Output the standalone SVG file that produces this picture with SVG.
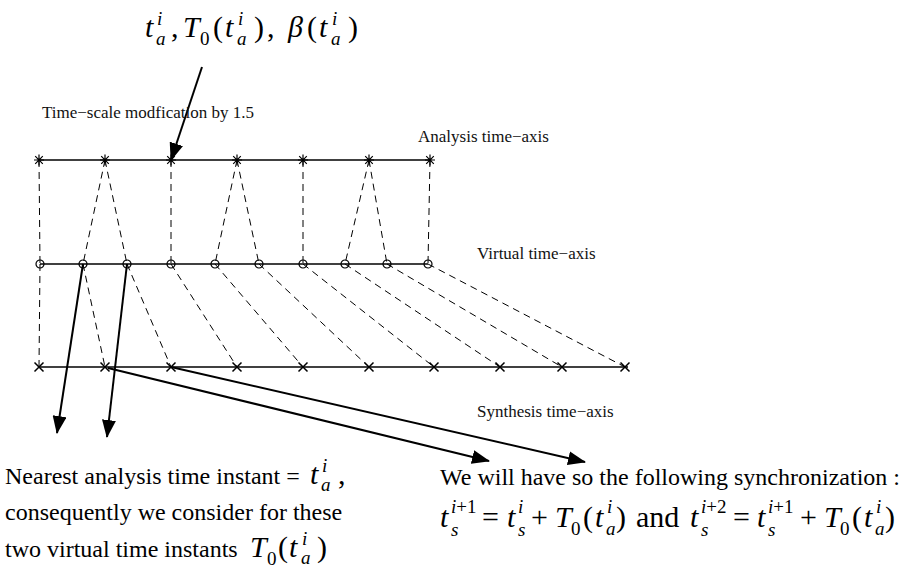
<svg xmlns="http://www.w3.org/2000/svg" width="900" height="570" viewBox="0 0 900 570">
<style>
.ax{stroke:#000;stroke-width:1.3;fill:none}
.mk{stroke:#000;stroke-width:1.2;fill:none}
.ds{stroke:#000;stroke-width:1;stroke-dasharray:7 5;fill:none}
.ar{stroke:#000;stroke-width:2;fill:none;marker-end:url(#ah)}
text{font-family:"Liberation Serif","Times New Roman",serif;fill:#000}
.lb{font-size:17px;fill:#111}
.bt{font-size:24px}
.m{font-size:30px}
.i{font-style:italic}
.s{font-size:19px}
</style>
<defs>
<marker id="ah" markerUnits="userSpaceOnUse" markerWidth="18" markerHeight="14" viewBox="0 0 18 14" refX="17" refY="7" orient="auto"><path d="M0,0 L18,7 L0,14 z" fill="#000"/></marker>
<path id="ast" class="mk" d="M-5,0H5M0,-5.5V5.5M-3.8,-3.8L3.8,3.8M-3.8,3.8L3.8,-3.8"/>
<circle id="cir" class="mk" r="4"/>
<path id="crs" class="mk" d="M-4.5,-4.5L4.5,4.5M-4.5,4.5L4.5,-4.5" style="stroke-width:1.5"/>
</defs>
<rect width="900" height="570" fill="#fff"/>

<g id="analysis-axis">
<line class="ax" x1="39" y1="160" x2="430" y2="160"/>
<use href="#ast" x="39" y="160"/><use href="#ast" x="105" y="160"/><use href="#ast" x="171" y="160"/><use href="#ast" x="237" y="160"/><use href="#ast" x="303" y="160"/><use href="#ast" x="369" y="160"/><use href="#ast" x="430" y="160"/>
</g>
<g id="virtual-axis">
<line class="ax" x1="40" y1="264" x2="428" y2="264"/>
<use href="#cir" x="40" y="264"/><use href="#cir" x="83" y="264"/><use href="#cir" x="127" y="264"/><use href="#cir" x="171" y="264"/><use href="#cir" x="215" y="264"/><use href="#cir" x="259" y="264"/><use href="#cir" x="303" y="264"/><use href="#cir" x="345" y="264"/><use href="#cir" x="387" y="264"/><use href="#cir" x="428" y="264"/>
</g>
<g id="synthesis-axis">
<line class="ax" x1="39" y1="367" x2="628" y2="367"/>
<use href="#crs" x="39" y="367"/><use href="#crs" x="105" y="367"/><use href="#crs" x="171" y="367"/><use href="#crs" x="237" y="367"/><use href="#crs" x="303" y="367"/><use href="#crs" x="369" y="367"/><use href="#crs" x="434" y="367"/><use href="#crs" x="500" y="367"/><use href="#crs" x="562" y="367"/><use href="#crs" x="625" y="367"/>
</g>

<g id="connectors">
<path class="ds" d="M39,160L40,264M105,160L83,264M105,160L127,264M171,160L171,264M237,160L215,264M237,160L259,264M303,160L303,264M369,160L345,264M369,160L387,264M430,160L428,264"/>
<path class="ds" d="M40,264L39,367M83,264L105,367M127,264L171,367M171,264L237,367M215,264L303,367M259,264L369,367M303,264L434,367M345,264L500,367M387,264L562,367M428,264L625,367"/>
<line class="ar" x1="202" y1="67" x2="171" y2="160"/>
<line class="ar" x1="83" y1="264" x2="57" y2="433"/>
<line class="ar" x1="127" y1="264" x2="107" y2="437"/>
<line class="ar" x1="108" y1="368" x2="489" y2="461"/>
<line class="ar" x1="171" y1="367" x2="585" y2="462"/>
</g>

<g id="labels">
<text class="lb" x="42" y="118">Time−scale modfication by 1.5</text>
<text class="lb" x="418" y="142">Analysis time−axis</text>
<text class="lb" x="477" y="259">Virtual time−axis</text>
<text class="lb" x="477" y="417">Synthesis time−axis</text>
</g>

<g id="top-formula">
<text class="m"><tspan class="i" x="145" y="37">t</tspan><tspan class="s i" x="157" y="25">i</tspan><tspan class="s i" x="156" y="45">a</tspan><tspan x="171" y="37">,</tspan><tspan class="i" x="183" y="37">T</tspan><tspan class="s" x="200" y="45">0</tspan><tspan x="213" y="37">(</tspan><tspan class="i" x="225" y="37">t</tspan><tspan class="s i" x="238" y="25">i</tspan><tspan class="s i" x="237" y="45">a</tspan><tspan x="254" y="37">)</tspan><tspan x="267" y="37">,</tspan><tspan class="i" x="288" y="37">β</tspan><tspan x="307" y="37">(</tspan><tspan class="i" x="319" y="37">t</tspan><tspan class="s i" x="332" y="25">i</tspan><tspan class="s i" x="331" y="45">a</tspan><tspan x="348" y="37">)</tspan></text>
</g>

<g id="note-left">
<text class="bt" x="5" y="484">Nearest analysis time instant =</text>
<text class="m"><tspan class="i" x="310" y="484">t</tspan><tspan class="s i" x="322" y="472">i</tspan><tspan class="s i" x="321" y="491">a</tspan><tspan x="338" y="484">,</tspan></text>
<text class="bt" x="5" y="520">consequently we consider for these</text>
<text class="bt" x="5" y="557">two virtual time instants</text>
<text class="m"><tspan class="i" x="250" y="557">T</tspan><tspan class="s" x="267" y="565">0</tspan><tspan x="278" y="557">(</tspan><tspan class="i" x="289" y="557">t</tspan><tspan class="s i" x="302" y="545">i</tspan><tspan class="s i" x="301" y="564">a</tspan><tspan x="317" y="557">)</tspan></text>
</g>

<g id="note-right">
<text class="bt" x="440" y="485">We will have so the following synchronization :</text>
<text class="m"><tspan class="i" x="440" y="527">t</tspan><tspan class="s i" x="451" y="536">s</tspan><tspan class="s" x="451" y="513"><tspan class="i">i</tspan>+1</tspan><tspan x="482" y="527">=</tspan><tspan class="i" x="507" y="527">t</tspan><tspan class="s i" x="518" y="513">i</tspan><tspan class="s i" x="518" y="536">s</tspan><tspan x="531" y="527">+</tspan><tspan class="i" x="555" y="527">T</tspan><tspan class="s" x="571" y="535">0</tspan><tspan x="583" y="527">(</tspan><tspan class="i" x="595" y="527">t</tspan><tspan class="s i" x="607" y="513">i</tspan><tspan class="s i" x="606" y="535">a</tspan><tspan x="616" y="527">)</tspan><tspan x="636" y="527">and</tspan><tspan class="i" x="690" y="527">t</tspan><tspan class="s i" x="701" y="536">s</tspan><tspan class="s" x="701" y="513"><tspan class="i">i</tspan>+2</tspan><tspan x="733" y="527">=</tspan><tspan class="i" x="757" y="527">t</tspan><tspan class="s i" x="768" y="536">s</tspan><tspan class="s" x="768" y="513"><tspan class="i">i</tspan>+1</tspan><tspan x="800" y="527">+</tspan><tspan class="i" x="824" y="527">T</tspan><tspan class="s" x="840" y="535">0</tspan><tspan x="852" y="527">(</tspan><tspan class="i" x="864" y="527">t</tspan><tspan class="s i" x="876" y="513">i</tspan><tspan class="s i" x="875" y="535">a</tspan><tspan x="885" y="527">)</tspan></text>
</g>
</svg>
